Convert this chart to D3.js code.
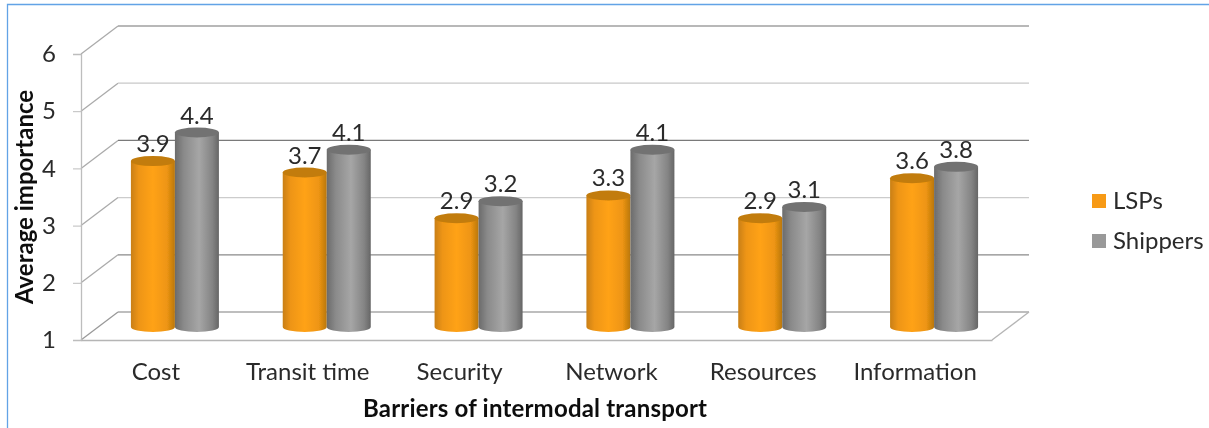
<!DOCTYPE html>
<html><head><meta charset="utf-8">
<script src="https://cdn.jsdelivr.net/npm/d3@7/dist/d3.min.js"></script>
<style>html,body{margin:0;padding:0;background:#fff;overflow:hidden}svg{display:block}
text{font-family:Lato,"Open Sans",sans-serif;fill:#2b2b2b}</style></head><body>
<script>
const categories=["Cost","Transit time","Security","Network","Resources","Information"];
const seriesNames=["LSPs","Shippers"];
const lsps=[3.9,3.7,2.9,3.3,2.9,3.6];
const shippers=[4.4,4.1,3.2,4.1,3.1,3.8];
const yTicks=[1,2,3,4,5,6];
const gridColors=["#a8a8a8","#8a8a8a","#cccccc","#7a7a7a","#c8c8c8","#a0a0a0"];
const seriesValues=[lsps,shippers];

const W=1209,H=428;
const svg=d3.select("body").append("svg").attr("width",W).attr("height",H);
const defs=svg.append("defs");
defs.append("filter").attr("id","soft").attr("x","-5%").attr("y","-5%").attr("width","110%").attr("height","110%")
  .append("feGaussianBlur").attr("stdDeviation",0.45);
function grad(id,stops){
  const g=defs.append("linearGradient").attr("id",id);
  stops.forEach(([o,c])=>g.append("stop").attr("offset",o).attr("stop-color",c));
}
grad("g0",[[0,"#c97f12"],[0.18,"#ee9512"],[0.5,"#ffa217"],[0.82,"#ee9512"],[1,"#b9770f"]]);
grad("g1",[[0,"#6b6b6b"],[0.2,"#8a8a8a"],[0.55,"#a6a6a6"],[0.85,"#848484"],[1,"#666666"]]);
const topColors=["#c27c0c","#727272"],swatch=["#f79a16","#999999"];

const depthX=37,depthY=28,fs=24;
const y=d3.scaleLinear().domain([1,6]).range([340,54]);
const xFront=d3.scaleBand().domain(categories).range([81,992]);
const xBars=d3.scaleBand().domain(categories).range([99,1010]);
const xSeries=d3.scaleBand().domain([0,1]).range([-44,44]);
const root=svg.append("g").attr("filter","url(#soft)");

// frame
root.append("path").attr("d","M7.5,428V4.5H1209").attr("fill","none").attr("stroke","#62a3e6").attr("stroke-width",1.3);

// walls
const grid=root.append("g").attr("fill","none").attr("stroke-width",1.3);
yTicks.forEach((t,i)=>{
  const c=gridColors[i];
  grid.append("line").attr("x1",81).attr("x2",81+depthX).attr("y1",y(t)).attr("y2",y(t)-depthY).attr("stroke",i===0?"#999":"#aaa");
  grid.append("line").attr("x1",81+depthX).attr("x2",992+depthX).attr("y1",y(t)-depthY).attr("y2",y(t)-depthY).attr("stroke",c);
});
grid.append("line").attr("x1",992).attr("x2",992+depthX).attr("y1",y(1)).attr("y2",y(1)-depthY).attr("stroke","#b5b5b5");

// axes
const ya=root.append("g").attr("transform","translate(81,0)").call(d3.axisLeft(y).tickValues(yTicks).tickFormat(d3.format("d")).tickSize(8).tickPadding(17));
ya.select(".domain").attr("stroke","#bdbdbd").attr("stroke-width",1.3);
ya.selectAll("line").attr("stroke","#bdbdbd");
ya.selectAll("text").attr("font-size",fs).style("font-family","Lato,sans-serif");
const xa=root.append("g").attr("transform","translate(-1,340)").call(d3.axisBottom(xFront).tickSize(0).tickPadding(23));
xa.select(".domain").attr("transform","translate(1,0)").attr("stroke","#b5b5b5").attr("stroke-width",1.3);
xa.selectAll("text").attr("font-size",fs).style("font-family","Lato,sans-serif");

// cylinders
const rx=22,ry=5,base=y(1)-13;
const yBar=d3.scaleLinear().domain([1,6]).range([base,base-286]);
const bars=root.append("g");
categories.forEach((cat,ci)=>{
  seriesValues.forEach((vals,si)=>{
    const v=vals[ci];
    const cx=xBars(cat)+xBars.bandwidth()/2+xSeries(si)+xSeries.bandwidth()/2;
    const top=yBar(v);
    bars.append("path")
      .attr("d",`M${cx-rx},${top}V${base}A${rx},${ry} 0 0 0 ${cx+rx},${base}V${top}Z`)
      .attr("fill",`url(#g${si})`);
    bars.append("ellipse").attr("cx",cx).attr("cy",top).attr("rx",rx).attr("ry",ry).attr("fill",topColors[si]);
    root.append("text").attr("x",cx).attr("y",top-9).attr("text-anchor","middle").attr("font-size",fs).text(d3.format(".1f")(v));
  });
});

// titles
root.append("text").attr("x",535).attr("y",417).attr("text-anchor","middle").attr("font-size",fs).attr("font-weight",700).attr("textLength",344).style("fill","#111").text("Barriers of intermodal transport");
root.append("text").attr("transform","translate(33,197) rotate(-90)").attr("text-anchor","middle").attr("font-size",fs).attr("font-weight",700).style("fill","#111").text("Average importance");

// legend
seriesNames.forEach((n,i)=>{
  const ly=201+i*40;
  root.append("rect").attr("x",1092).attr("y",ly-7).attr("width",14).attr("height",14).attr("fill",swatch[i]);
  root.append("text").attr("x",1113).attr("y",ly+8).attr("font-size",fs).text(n);
});
</script></body></html>
